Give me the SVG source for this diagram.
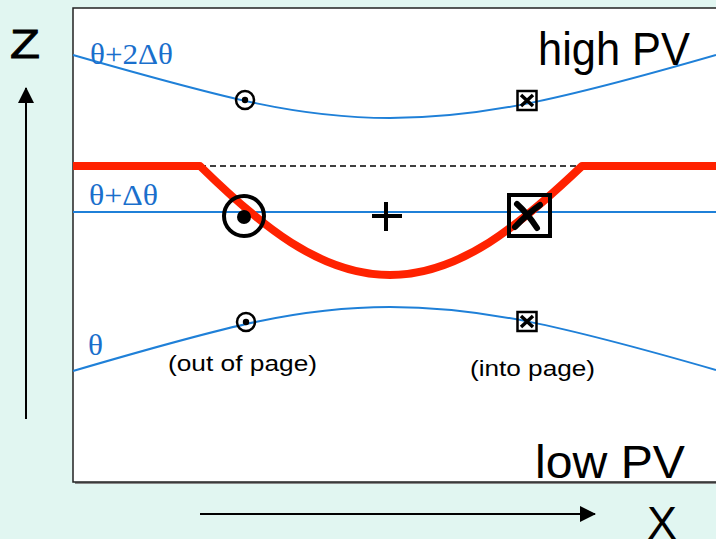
<svg xmlns="http://www.w3.org/2000/svg" width="716" height="539" viewBox="0 0 716 539">
<defs>
<style>
.sans{font-family:"Liberation Sans",Arial,sans-serif;fill:#000}
.greek{font-family:"Liberation Serif","Times New Roman",serif;fill:#1a6fcc;font-size:30px}
.iso{fill:none;stroke:#1f80d8;stroke-width:2}
.sym{fill:none;stroke:#000}
</style>
<marker id="ah" markerWidth="16" markerHeight="16" viewBox="0 0 16 16" refX="15" refY="8" orient="auto" markerUnits="userSpaceOnUse">
<path d="M0,0 L16,8 L0,16 Z" fill="#000"/>
</marker>
</defs>
<rect x="0" y="0" width="716" height="539" fill="#e1f6f1"/>
<g id="frame">
<rect x="75" y="10" width="660" height="474" fill="#888"/>
<rect x="73" y="8" width="660" height="474" fill="#fff" stroke="#222" stroke-width="1.5"/>
</g>
<g id="connectors">
<line x1="26" y1="419" x2="26" y2="88" stroke="#000" stroke-width="2" marker-end="url(#ah)"/>
<line x1="200" y1="514" x2="595" y2="514" stroke="#000" stroke-width="2" marker-end="url(#ah)"/>
</g>
<g id="isentropes">
<path class="iso" d="M73,55 C230,100 300,118 390,118 C480,118 560,100 716,55"/>
<line class="iso" x1="73" y1="212" x2="716" y2="212"/>
<path class="iso" d="M73,371 C230,325 300,307 390,307 C480,307 560,325 716,370"/>
</g>
<g id="pv-anomaly">
<line x1="200" y1="166" x2="582" y2="166" stroke="#000" stroke-width="1.6" stroke-dasharray="6,4"/>
<path d="M73,166 L200,166 C260,225 320,275 390,275 C460,275 520,225 582,166 L716,166" fill="none" stroke="#ff2200" stroke-width="8" stroke-linejoin="round"/>
</g>
<g id="out-top">
<circle class="sym" cx="245" cy="100" r="9" stroke-width="2.5"/>
<circle cx="245" cy="100" r="3.2" fill="#000"/>
</g>
<g id="in-top">
<rect class="sym" x="517.5" y="91" width="19" height="19" stroke-width="2.5"/>
<path d="M521,95 L533,106 M533,95 L521,106" stroke="#000" stroke-width="3.5"/>
</g>
<g id="out-mid">
<circle class="sym" cx="244" cy="216" r="20" stroke-width="4"/>
<circle cx="244" cy="217" r="7" fill="#000"/>
</g>
<g id="plus">
<path d="M372,216 L402,216 M386,202 L386,231" stroke="#000" stroke-width="4"/>
</g>
<g id="in-mid">
<rect class="sym" x="509" y="195" width="41" height="41" stroke-width="4"/>
<path d="M517,204 Q528,214 537,228 M540,205 Q527,214 515,227" stroke="#000" stroke-width="6" fill="none" stroke-linecap="round"/>
</g>
<g id="out-bot">
<circle class="sym" cx="246" cy="322" r="9" stroke-width="2.5"/>
<circle cx="246" cy="322" r="3.2" fill="#000"/>
</g>
<g id="in-bot">
<rect class="sym" x="517.5" y="312" width="19" height="19" stroke-width="2.5"/>
<path d="M521,316 L533,327 M533,316 L521,327" stroke="#000" stroke-width="3.5"/>
</g>
<g id="labels">
<text class="greek" x="90" y="64" textLength="83" lengthAdjust="spacingAndGlyphs">θ+2Δθ</text>
<text class="greek" x="89" y="205" textLength="69" lengthAdjust="spacingAndGlyphs">θ+Δθ</text>
<text class="greek" x="88" y="355" textLength="15" lengthAdjust="spacingAndGlyphs">θ</text>
<text class="sans" x="168" y="371" font-size="22" textLength="149" lengthAdjust="spacingAndGlyphs">(out of page)</text>
<text class="sans" x="470" y="376" font-size="22" textLength="125" lengthAdjust="spacingAndGlyphs">(into page)</text>
<text class="sans" x="538" y="65" font-size="46" textLength="152" lengthAdjust="spacingAndGlyphs">high PV</text>
<text class="sans" x="535" y="478" font-size="47" textLength="150" lengthAdjust="spacingAndGlyphs">low PV</text>
<text class="sans" x="10" y="58" font-size="40" textLength="30" lengthAdjust="spacingAndGlyphs" stroke="#000" stroke-width="0.8">Z</text>
<text class="sans" x="647" y="539" font-size="46" textLength="30" lengthAdjust="spacingAndGlyphs">X</text>
</g>
</svg>
